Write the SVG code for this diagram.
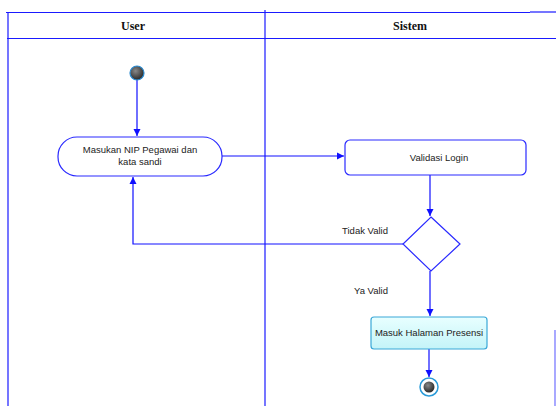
<svg xmlns="http://www.w3.org/2000/svg" width="556" height="406" viewBox="0 0 556 406">
<style>
.lane{stroke:#1a1aff;stroke-width:1.2;fill:none}
.hdr{font-family:"Liberation Serif",serif;font-weight:bold;font-size:12px;fill:#111;text-anchor:middle}
.lbl{font-family:"Liberation Sans",Arial,sans-serif;font-size:9.5px;fill:#222;text-anchor:middle}
.act{fill:#fff;stroke:#2a2aff;stroke-width:1.2}
.con{stroke:#1010ff;stroke-width:1.2;fill:none}
</style>
<defs>
<marker id="ah" viewBox="0 0 10 10" refX="10" refY="5" markerWidth="7" markerHeight="9" markerUnits="userSpaceOnUse" orient="auto">
<path d="M0,0 L10,5 L0,10 z" fill="#1010ff"/>
</marker>
<radialGradient id="dark" cx="40%" cy="35%" r="70%">
<stop offset="0" stop-color="#888"/>
<stop offset="1" stop-color="#222"/>
</radialGradient>
<linearGradient id="cyan" x1="0" y1="0" x2="0" y2="1">
<stop offset="0" stop-color="#e8ffff"/>
<stop offset="1" stop-color="#c4f4f8"/>
</linearGradient>
</defs>
<g id="swimlanes">
<line class="lane" x1="6" y1="12.5" x2="530" y2="12.5"/>
<line class="lane" x1="530" y1="12" x2="556" y2="12"/>
<line class="lane" x1="7" y1="38.5" x2="556" y2="38.5"/>
<line class="lane" x1="8" y1="12" x2="8" y2="406"/>
<line class="lane" x1="265" y1="10" x2="265" y2="406"/>
<line x1="555" y1="330" x2="555" y2="406" stroke="#3030ff" stroke-width="1.2" stroke-opacity="0.7"/>
<text class="hdr" x="133" y="30">User</text>
<text class="hdr" x="410" y="30">Sistem</text>
</g>
<g id="connectors">
<line class="con" x1="137" y1="80" x2="137" y2="136" marker-end="url(#ah)"/>
<line class="con" x1="222" y1="156" x2="344" y2="156" marker-end="url(#ah)"/>
<line class="con" x1="430" y1="175" x2="430" y2="216" marker-end="url(#ah)"/>
<polyline class="con" points="403,244 133,244 133,177" marker-end="url(#ah)"/>
<line class="con" x1="430" y1="271" x2="430" y2="316" marker-end="url(#ah)"/>
<line class="con" x1="429" y1="349" x2="429" y2="377" marker-end="url(#ah)"/>
<text class="lbl" x="365" y="234">Tidak Valid</text>
<text class="lbl" x="371" y="294">Ya Valid</text>
</g>
<g id="start">
<circle cx="137" cy="73" r="7" fill="url(#dark)" stroke="#2a8ad0" stroke-width="1.2"/>
</g>
<g id="masukan">
<rect class="act" x="58" y="137" width="164" height="39" rx="19" ry="19"/>
<text class="lbl" x="140" y="153">Masukan NIP Pegawai dan</text>
<text class="lbl" x="140" y="165">kata sandi</text>
</g>
<g id="validasi">
<rect class="act" x="345" y="140" width="181" height="35" rx="5" ry="5"/>
<text class="lbl" x="439" y="161">Validasi Login</text>
</g>
<g id="decision">
<polygon class="act" points="431,217 460,244 431,271 403,244"/>
</g>
<g id="presensi">
<rect x="371" y="317" width="116" height="32" rx="3" ry="3" fill="url(#cyan)" stroke="#3aa8d8" stroke-width="1.2"/>
<text class="lbl" x="429" y="336">Masuk Halaman Presensi</text>
</g>
<g id="end">
<circle cx="429" cy="387" r="9" fill="#fff" stroke="#2a9ad8" stroke-width="1.5"/>
<circle cx="429" cy="387" r="5.5" fill="url(#dark)"/>
</g>
</svg>
